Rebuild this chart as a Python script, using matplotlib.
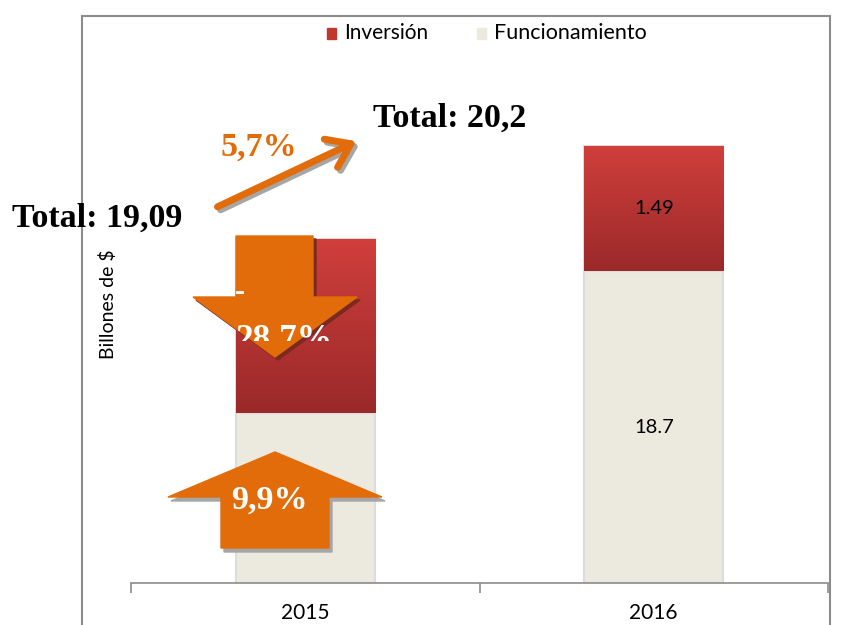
import matplotlib
matplotlib.use("Agg")
import matplotlib.pyplot as plt
import numpy as np
from matplotlib.patches import Rectangle, Polygon, FancyArrowPatch
from matplotlib.colors import LinearSegmentedColormap

years = ["2015", "2016"]
funcionamiento = [17.02, 18.7]
inversion = [2.07, 1.49]
totals_text = ["Total: 19,09", "Total: 20,2"]
growth_total = "5,7%"
growth_inv = "-28,7%"
growth_func = "9,9%"
labels_inv = [None, "1.49"]
labels_func = [None, "18.7"]

W, H = 842, 625
fig = plt.figure(figsize=(W / 100, H / 100), dpi=100)

def P(x, y):
    return (x / W, 1 - y / H)

ORANGE = "#e36c0a"
BEIGE = "#eceadf"
SHADOW = "#a6a6a6"
SANS = "Lato"
SERIF = "Liberation Serif"

# frame
fig.patches.append(Rectangle(P(82, 640), (830 - 82) / W, (640 - 16) / H,
                             transform=fig.transFigure, fill=False,
                             edgecolor="#8c8c8c", lw=1.5, zorder=0))

ax_l, ax_r, ax_b, ax_t = 131, 828, 583, 16
ax = fig.add_axes([ax_l / W, 1 - ax_b / H, (ax_r - ax_l) / W, (ax_b - ax_t) / H])
ax.set_facecolor("none")
ymin = 15.0
ymax = ymin + (ax_b - ax_t) / 84.2
x = np.arange(len(years))
bw = 0.4

fbars = ax.bar(x, np.array(funcionamiento) - ymin, bottom=ymin, width=bw,
               color=BEIGE, edgecolor="#dcdcdc", lw=1.5, zorder=2)
ibars = ax.bar(x, inversion, bottom=funcionamiento, width=bw,
               color="#b83333", edgecolor="#dcdcdc", lw=1.5, zorder=2)

cmap = LinearSegmentedColormap.from_list("red", ["#9a2929", "#d03f3c"])
grad = np.linspace(0, 1, 256).reshape(-1, 1)
for b in ibars:
    x0, y0 = b.get_x(), b.get_y()
    im = ax.imshow(grad, extent=[x0, x0 + b.get_width(), y0, y0 + b.get_height()],
                   origin="lower", cmap=cmap, aspect="auto", zorder=2.5)
    im.set_clip_path(b)
ax.set_xlim(-0.5, 1.5)
ax.set_ylim(ymin, ymax)

for i in range(len(years)):
    if labels_inv[i]:
        ax.text(x[i], funcionamiento[i] + inversion[i] / 2, labels_inv[i],
                ha="center", va="center", fontsize=14.5, family=SANS,
                color="black", zorder=4)
    if labels_func[i]:
        ax.text(x[i], (funcionamiento[i] + ymin) / 2, labels_func[i],
                ha="center", va="center", fontsize=14.5, family=SANS,
                color="black", zorder=4)

for s in ["top", "right", "left"]:
    ax.spines[s].set_visible(False)
ax.spines["bottom"].set_color("#8c8c8c")
ax.spines["bottom"].set_linewidth(1.2)
ax.set_yticks([])
ax.set_xticks([-0.5, 0.5, 1.5], minor=False)
ax.set_xticklabels(["", "", ""])
ax.tick_params(axis="x", length=7, color="#8c8c8c", width=1.2, direction="out")
for i, yl in enumerate(years):
    ax.text(x[i], -0.035, yl, transform=ax.get_xaxis_transform(), ha="center",
            va="top", fontsize=15, family=SANS)

fig.text(*P(108, 304), "Billones de $", rotation=90, ha="center", va="center",
         fontsize=14, family=SANS)

# legend
fig.patches.append(Rectangle(P(327, 39), 9 / W, 11 / H, transform=fig.transFigure,
                             color="#c0392f"))
fig.text(*P(344, 33), "Inversión", ha="left", va="center", fontsize=15,
         family=SANS)
fig.patches.append(Rectangle(P(477, 39), 9 / W, 11 / H, transform=fig.transFigure,
                             color=BEIGE))
fig.text(*P(494, 33), "Funcionamiento", ha="left", va="center", fontsize=15.5,
         family=SANS)

# totals
fig.text(*P(12, 218), totals_text[0], ha="left", va="center", fontsize=24.5,
         fontweight="bold", family=SERIF)
fig.text(*P(373, 118), totals_text[1], ha="left", va="center", fontsize=24.5,
         fontweight="bold", family=SERIF)

# diagonal arrow
for off, col, z in [((3, 3), SHADOW, 5), ((0, 0), ORANGE, 6)]:
    a = FancyArrowPatch(P(215 + off[0], 208 + off[1]), P(359 + off[0], 140 + off[1]),
                        transform=fig.transFigure, arrowstyle="->,head_length=10,head_width=7",
                        color=col, lw=5, zorder=z, mutation_scale=1.6)
    fig.patches.append(a)
fig.text(*P(259, 147), growth_total, ha="center", va="center", fontsize=24.5,
         fontweight="bold", family=SERIF, color=ORANGE)

# down arrow
down = [(236, 236), (313, 236), (313, 297), (357, 297), (275, 357), (193, 297), (236, 297)]
fig.patches.append(Polygon([P(px + 3, py + 3) for px, py in down], closed=True,
                           transform=fig.transFigure, color="#7a2a20", zorder=5))
fig.patches.append(Polygon([P(px, py) for px, py in down], closed=True,
                           transform=fig.transFigure, color=ORANGE, zorder=6))
fig.text(*P(240, 293), "-", ha="center", va="center", fontsize=22,
         fontweight="bold", family=SERIF, color="white", zorder=7)
t = fig.text(*P(284, 340), growth_inv[1:], ha="center", va="center", fontsize=25.5,
             fontweight="bold", family=SERIF, color="white", zorder=7)
clip = Rectangle(P(150, 341), 300 / W, 100 / H, transform=fig.transFigure)
t.set_clip_path(clip)

# up arrow
up = [(221, 548), (221, 497), (168, 497), (275, 452), (382, 497), (329, 497), (329, 548)]
fig.patches.append(Polygon([P(px + 3, py + 4) for px, py in up], closed=True,
                           transform=fig.transFigure, color=SHADOW, zorder=5))
fig.patches.append(Polygon([P(px, py) for px, py in up], closed=True,
                           transform=fig.transFigure, color=ORANGE, zorder=6))
fig.text(*P(269, 500), growth_func, ha="center", va="center", fontsize=24.5,
         fontweight="bold", family=SERIF, color="white", zorder=7)

fig.savefig("out.png", dpi=100)
